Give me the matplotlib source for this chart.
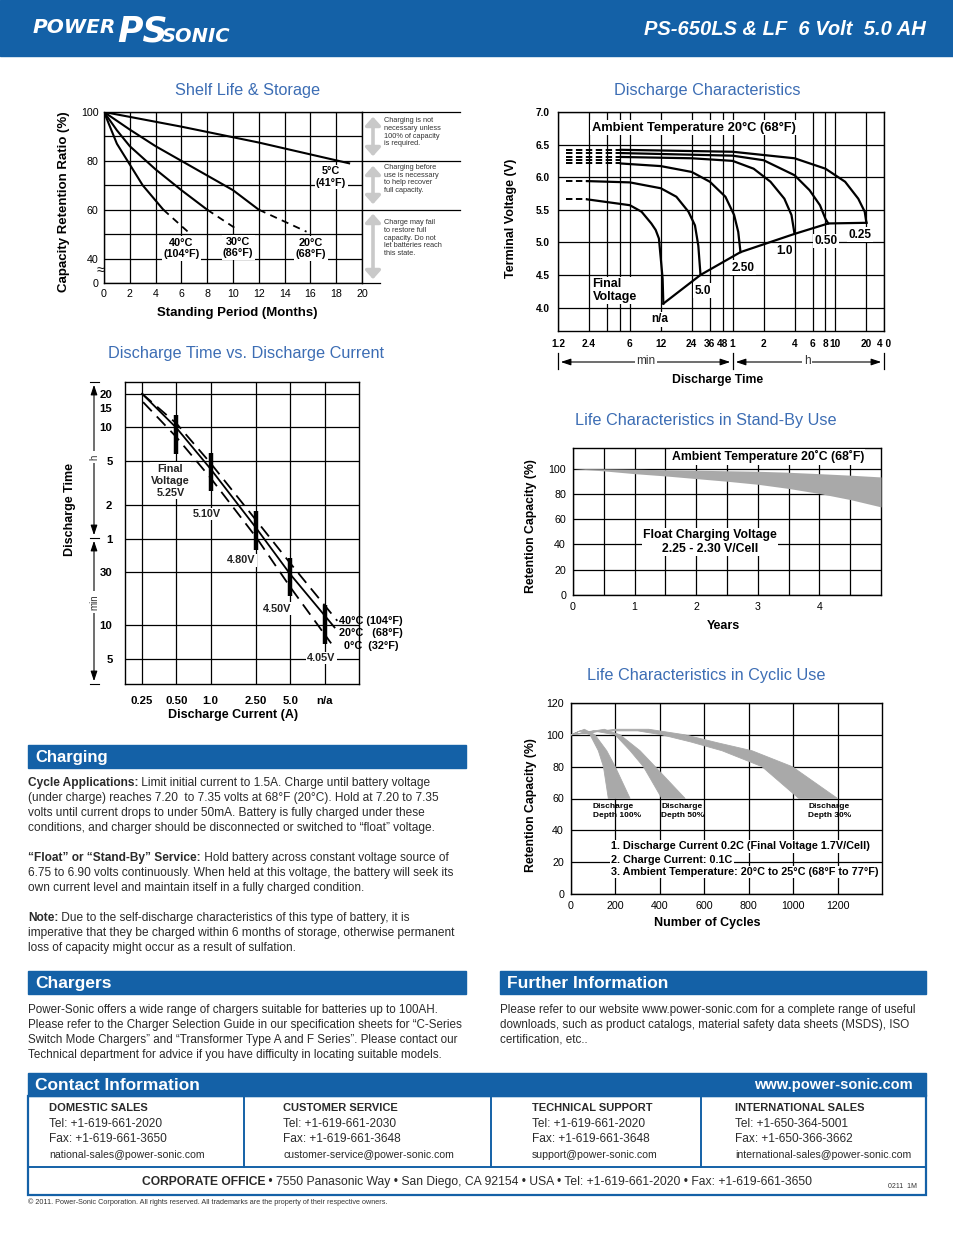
import matplotlib
matplotlib.use('Agg')
import matplotlib.pyplot as plt
from matplotlib.patches import Rectangle, FancyArrowPatch
from matplotlib.ticker import FixedLocator, NullFormatter

W, H = 954, 1235
BAR = '#1461a7'
TITLE = '#3c6db4'
BAND = '#a9a9a9'

plt.rcParams['font.family'] = ['Liberation Sans', 'DejaVu Sans']
NARROW = ['Liberation Sans Narrow', 'Liberation Sans', 'DejaVu Sans']

# ---------------- data ----------------
# Shelf life & storage (months, % retention)
shelf_5c_m = [0, 6, 12, 19]
shelf_5c_pct = [100, 94, 87.5, 79]
shelf_20c_m = [0, 2, 4, 6, 8, 10, 12]
shelf_20c_pct = [100, 92.8, 86, 80, 74, 68, 60]
shelf_20c_dash_m = [12, 15.7]
shelf_20c_dash_pct = [60, 51]
shelf_30c_m = [0, 1, 2, 4, 6, 8]
shelf_30c_pct = [100, 92.5, 86, 76.5, 68, 60]
shelf_30c_dash_m = [8, 10.3]
shelf_30c_dash_pct = [60, 52]
shelf_40c_m = [0, 1, 2, 3, 4.6]
shelf_40c_pct = [100, 87, 78.5, 70, 60]
shelf_40c_dash_m = [4.6, 6.5]
shelf_40c_dash_pct = [60, 51]

# Discharge characteristics (minutes, volts), one curve per current
dc_labels = ['0.25', '0.50', '1.0', '2.50', '5.0', 'n/a']
dc_time = [
    [4.9, 60, 240, 480, 745, 1000, 1156, 1200],
    [4.9, 60, 120, 240, 336, 424, 480, 511],
    [4.9, 24, 60, 96, 140, 191, 224, 240],
    [4.9, 12, 24, 36, 51, 62, 68, 71.5],
    [2.3, 6, 12, 17, 22.3, 25.8, 27.8, 29.2],
    [2.3, 6, 7.8, 9.7, 10.7, 11.5, 12.0, 12.5, 12.7],
]
dc_volt = [
    [6.42, 6.39, 6.29, 6.13, 5.93, 5.67, 5.47, 5.30],
    [6.37, 6.33, 6.26, 6.03, 5.80, 5.57, 5.36, 5.29],
    [6.31, 6.29, 6.25, 6.13, 5.93, 5.67, 5.42, 5.13],
    [6.21, 6.17, 6.08, 5.93, 5.70, 5.42, 5.16, 4.85],
    [5.94, 5.92, 5.83, 5.70, 5.47, 5.26, 4.95, 4.50],
    [5.66, 5.57, 5.47, 5.29, 5.19, 5.06, 4.75, 4.44, 4.06],
]
dc_dash_volt = [6.42, 6.37, 6.31, 6.26, 6.21, 5.94, 5.66]
dc_dash_end = [4.9, 4.9, 4.9, 4.9, 4.9, 2.3, 2.3]
dc_tick_min = [1.2, 2.4, 6, 12, 24, 36, 48, 60, 120, 240, 360, 480, 600, 1200, 1780]
dc_tick_lbl = ['1.2', '2.4', '6', '12', '24', '36', '48', '1', '2', '4', '6', '8', '10', '20', '4 0']
dc_minor_min = [3.6, 4.8]

# Discharge time vs discharge current (A, minutes)
dt_20c_a = [0.25, 0.5, 1.0, 2.5, 5.0, 12.2]
dt_20c_min = [1200, 593, 253, 75, 28.7, 9.6]
dt_40c_a = [0.25, 0.5, 1.0, 2.5, 5.0, 12.9]
dt_40c_min = [1200, 650, 285, 88, 36, 11.0]
dt_0c_a = [0.255, 0.5, 1.0, 2.5, 5.0, 11.4]
dt_0c_min = [1010, 490, 210, 62, 22, 6.9]
dt_mark_a = [0.5, 1.0, 2.5, 5.0, 10.0]
dt_mark_top = [768, 352, 107, 40.5, 15.4]
dt_mark_bot = [346, 160, 48, 18.2, 6.8]
dt_mark_lbl = ['Final\nVoltage\n5.25V', '5.10V', '4.80V', '4.50V', '4.05V']
dt_xtick_a = [0.25, 0.5, 1.0, 2.5, 5.0, 10.0]
dt_xtick_lbl = ['0.25', '0.50', '1.0', '2.50', '5.0', 'n/a']
dt_ytick_min = [1200, 900, 600, 300, 120, 60, 30, 10, 5]
dt_ytick_lbl = ['20', '15', '10', '5', '2', '1', '30', '10', '5']

# Stand-by life (years, % capacity band)
sb_years = [0, 0.5, 1, 1.5, 2, 2.5, 3, 3.5, 4, 4.5, 5]
sb_upper = [100, 99.8, 99.5, 99.1, 98.7, 98.3, 97.9, 97.1, 96.0, 94.8, 93.4]
sb_lower = [100, 98.2, 96.0, 94.2, 92.1, 90.0, 87.6, 84.3, 80.3, 75.5, 69.7]

# Cyclic life (cycles, % capacity), inner and outer edges of each band
cy100_in_n = [0, 40, 86, 123, 146, 168]
cy100_in_pct = [100, 102.5, 100, 90, 80, 60]
cy100_out_n = [0, 60, 108, 161, 199, 266]
cy100_out_pct = [100, 103.5, 100, 90, 80, 60]
cy50_in_n = [0, 100, 199, 266, 326, 409]
cy50_in_pct = [100, 102.5, 100, 90, 80, 60]
cy50_out_n = [0, 150, 221, 311, 379, 514]
cy50_out_pct = [100, 103.5, 100, 90, 80, 60]
cy30_in_n = [0, 150, 300, 409, 540, 680, 860, 1026]
cy30_in_pct = [100, 102.5, 102.5, 100, 95.5, 90, 80, 60]
cy30_out_n = [0, 200, 350, 514, 660, 815, 996, 1200]
cy30_out_pct = [100, 103.5, 103.5, 100, 95, 90, 80, 60]

# ---------------- helpers ----------------
fig = plt.figure(figsize=(W / 100, H / 100), dpi=100)
fig.patch.set_facecolor('white')


def fx(x):
    return x / W


def fy(y):
    return 1 - y / H


def axes_px(x0, y0, x1, y1):
    a = fig.add_axes([fx(x0), fy(y1), (x1 - x0) / W, (y1 - y0) / H])
    for s in a.spines.values():
        s.set_linewidth(1.0)
    a.tick_params(length=0)
    return a


def ftext(x, y, s, **kw):
    return fig.text(fx(x), fy(y), s, **kw)


def bar(x0, y0, x1, y1, label, size=12, family=None):
    fig.patches.append(Rectangle((fx(x0), fy(y1)), (x1 - x0) / W, (y1 - y0) / H,
                                 transform=fig.transFigure, color=BAR, zorder=0))
    kw = {}
    if family:
        kw['family'] = family
    ftext(x0 + 7, (y0 + y1) / 2 + 1, label, color='white', fontsize=size,
          weight='bold', va='center', **kw)


renderer = fig.canvas.get_renderer()


def rich(x, y, parts, size=8.6, family=None):
    cx = x
    for s, w in parts:
        kw = {}
        if family:
            kw['family'] = family
        t = ftext(cx, y, s, fontsize=size, weight=w, va='baseline', color='#2a2a2a', **kw)
        cx += t.get_window_extent(renderer=renderer).width
    return cx


WB = dict(facecolor='white', edgecolor='none', pad=1.0)
GRID = dict(color='black', lw=0.9)
AX_LBL = dict(fontsize=9, weight='bold', ha='center', va='center')
TTL = dict(fontsize=11.7, color=TITLE, ha='center', va='center')

# ---------------- header ----------------
fig.patches.append(Rectangle((0, fy(56)), 1, 56 / H, transform=fig.transFigure, color=BAR))
ftext(33, 33, 'POWER', fontsize=14.5, weight='bold', style='italic', color='white',
      va='baseline', family='DejaVu Sans')
ftext(117, 42, 'PS', fontsize=25, weight='bold', style='italic', color='white',
      va='baseline', family='DejaVu Sans')
ftext(162, 42, 'SONIC', fontsize=14, weight='bold', style='italic', color='white',
      va='baseline', family='DejaVu Sans')
for yy in range(16, 45, 3):
    fig.add_artist(plt.Line2D([fx(30), fx(240)], [fy(yy), fy(yy)], color=BAR, lw=0.45))
ftext(926, 35, 'PS-650LS & LF  6 Volt  5.0 AH', fontsize=14.5, weight='bold',
      style='italic', color='white', ha='right', va='baseline', family=NARROW)

# ---------------- shelf life ----------------
ax = axes_px(104, 112, 362, 283)
ax.set_xlim(0, 20)
ax.set_ylim(30, 100)
ax.set_xticks(range(0, 21, 2))
ax.set_yticks([30, 40, 60, 80, 100], ['0', '40', '60', '80', '100'])
ax.set_yticks([50, 70, 90], minor=True)
ax.grid(True, which='both', **GRID)
ax.tick_params(which='both', length=0, labelsize=7.7, pad=4)
for y in (60, 80, 100):
    ax.plot([20, 27.6], [y, y], clip_on=False, **GRID)
ax.plot([20, 21.4], [30, 30], clip_on=False, **GRID)
ax.plot(shelf_5c_m, shelf_5c_pct, color='black', lw=1.5)
ax.plot(shelf_20c_m, shelf_20c_pct, color='black', lw=1.5)
ax.plot(shelf_30c_m, shelf_30c_pct, color='black', lw=1.5)
ax.plot(shelf_40c_m, shelf_40c_pct, color='black', lw=1.5)
for xs, ys in ((shelf_20c_dash_m, shelf_20c_dash_pct), (shelf_30c_dash_m, shelf_30c_dash_pct),
               (shelf_40c_dash_m, shelf_40c_dash_pct)):
    ax.plot(xs, ys, color='black', lw=1.3, ls=(0, (4, 3)))
SL = dict(fontsize=7.8, weight='bold', ha='center', va='center', bbox=WB, linespacing=1.2)
ax.text(17.6, 73.5, '5°C\n(41°F)', **SL)
ax.text(6.0, 44.2, '40°C\n(104°F)', **SL)
ax.text(10.4, 44.5, '30°C\n(86°F)', **SL)
ax.text(16.05, 44.2, '20°C\n(68°F)', **SL)
ax.text(-0.25, 35.2, '≈', fontsize=10, ha='center', va='center', clip_on=False)
for y0, y1 in ((114, 159), (163, 207), (211, 282)):
    fig.patches.append(FancyArrowPatch((fx(373), fy(y0)), (fx(373), fy(y1)),
                                       transform=fig.transFigure,
                                       arrowstyle='<|-|>,head_length=0.5,head_width=0.45',
                                       mutation_scale=10, color='#c9c9c9', lw=2.6))
NOTE = dict(fontsize=5.3, va='top', linespacing=1.15, color='#333333', family=NARROW)
ftext(384, 117, 'Charging is not\nnecessary unless\n100% of capacity\nis required.', **NOTE)
ftext(384, 164, 'Charging before\nuse is necessary\nto help recover\nfull capacity.', **NOTE)
ftext(384, 219, 'Charge may fail\nto restore full\ncapacity. Do not\nlet batteries reach\nthis state.', **NOTE)
ftext(248, 90, 'Shelf Life & Storage', **TTL)
ftext(64, 202, 'Capacity Retention Ratio (%)', rotation=90, **dict(AX_LBL, fontsize=9.5))
ftext(237, 313, 'Standing Period (Months)', **dict(AX_LBL, fontsize=9.5))

# ---------------- discharge characteristics ----------------
ax = axes_px(558, 112, 884, 331)
ax.set_xscale('log')
ax.set_xlim(1.2, 1780)
ax.set_ylim(3.64, 7.0)
ax.set_xticks(dc_tick_min, dc_tick_lbl)
ax.xaxis.set_minor_locator(FixedLocator(dc_minor_min))
ax.xaxis.set_minor_formatter(NullFormatter())
ax.set_yticks([4.0, 4.5, 5.0, 5.5, 6.0, 6.5, 7.0])
ax.set_yticklabels(['4.0', '4.5', '5.0', '5.5', '6.0', '6.5', '7.0'])
ax.grid(True, which='both', **GRID)
ax.tick_params(which='both', length=0, labelsize=7.3, pad=6)
for lbl in ax.get_xticklabels() + ax.get_yticklabels():
    lbl.set_fontweight('bold')
for v, t_end in zip(dc_dash_volt, dc_dash_end):
    ax.plot([1.42, t_end], [v, v], color='black', lw=1.4, ls=(0, (3.3, 1.8)))
for ts, vs in zip(dc_time, dc_volt):
    ax.plot(ts, vs, color='black', lw=1.6, solid_joinstyle='round')
ax.plot([t[-1] for t in dc_time], [v[-1] for v in dc_volt], color='black', lw=1.6)
ax.text(2.55, 6.76, 'Ambient Temperature 20°C (68°F)', fontsize=9.3, weight='bold',
        va='center', bbox=WB)
ax.text(2.6, 4.26, 'Final\nVoltage', fontsize=9, weight='bold', va='center', bbox=WB,
        linespacing=1.1)
dc_lbl_pos = [(1038, 5.12), (489, 5.02), (193, 4.86), (76, 4.61), (30.5, 4.26), (11.8, 3.82)]
for (t, v), s in zip(dc_lbl_pos, dc_labels):
    ax.text(t, v, s, fontsize=8.5, weight='bold', ha='center', va='center', bbox=WB)
for x in (558, 733, 884):
    fig.add_artist(plt.Line2D([fx(x), fx(x)], [fy(353), fy(369)], color='black', lw=0.9))
for x0, x1, xm, s in ((558, 733, 646, 'min'), (733, 884, 807, 'h')):
    fig.patches.append(FancyArrowPatch((fx(x0), fy(362)), (fx(x1), fy(362)),
                                       transform=fig.transFigure,
                                       arrowstyle='<|-|>,head_length=0.6,head_width=0.2',
                                       mutation_scale=10, color='black', lw=0.8))
    ftext(xm, 361, s, fontsize=8.5, ha='center', va='center', color='#333333', bbox=WB)
ftext(707, 90, 'Discharge Characteristics', **TTL)
ftext(511, 218, 'Terminal Voltage (V)', rotation=90, **AX_LBL)
ftext(718, 380, 'Discharge Time', **dict(AX_LBL, fontsize=8.8))

# ---------------- discharge time vs current ----------------
ax = axes_px(125, 382, 359, 684)
ax.set_xscale('log')
ax.set_yscale('log')
ax.set_xlim(0.177, 20)
ax.set_ylim(2.98, 1530)
ax.minorticks_off()
ax.set_xticks(dt_xtick_a, dt_xtick_lbl)
ax.set_yticks(dt_ytick_min, dt_ytick_lbl)
ax.grid(True, **GRID)
ax.yaxis.get_gridlines()[1].set_visible(False)
ax.tick_params(length=0, labelsize=8.2, pad=9)
for lbl in ax.get_xticklabels() + ax.get_yticklabels():
    lbl.set_fontweight('bold')
ax.plot(dt_40c_a, dt_40c_min, color='black', lw=1.3, ls=(0, (7, 4)))
ax.plot(dt_20c_a, dt_20c_min, color='black', lw=1.3)
ax.plot(dt_0c_a, dt_0c_min, color='black', lw=1.3, ls=(0, (7, 4)))
ax.vlines(dt_mark_a, dt_mark_bot, dt_mark_top, color='black', lw=3.2)
dt_lbl_pos = [(0.443, 199), (0.93, 100), (1.86, 38.5), (3.83, 14.1), (9.3, 5.1)]
for (a, m), s in zip(dt_lbl_pos, dt_mark_lbl):
    ax.text(a, m, s, fontsize=7.8, weight='bold', ha='center', va='center', bbox=WB,
            linespacing=1.25, color='#222222')
ax.text(13.3, 11.0, '40°C (104°F)', fontsize=7.8, weight='bold', va='center')
ax.text(13.3, 8.5, '20°C   (68°F)', fontsize=7.8, weight='bold', va='center')
ax.text(14.8, 6.6, '0°C  (32°F)', fontsize=7.8, weight='bold', va='center')
for y in (382, 538, 684):
    fig.add_artist(plt.Line2D([fx(90), fx(99)], [fy(y), fy(y)], color='black', lw=0.8))
for y0, y1, ym, s in ((382, 538, 457, 'h'), (538, 684, 602, 'min')):
    fig.patches.append(FancyArrowPatch((fx(94), fy(y0)), (fx(94), fy(y1)),
                                       transform=fig.transFigure,
                                       arrowstyle='<|-|>,head_length=0.6,head_width=0.2',
                                       mutation_scale=10, color='black', lw=0.8))
    ftext(94, ym, s, fontsize=7, rotation=90, ha='center', va='center', color='#333333',
          bbox=dict(facecolor='white', edgecolor='none', pad=2))
ftext(246, 354, 'Discharge Time vs. Discharge Current', **TTL)
ftext(70, 510, 'Discharge Time', rotation=90, **AX_LBL)
ftext(233, 715, 'Discharge Current (A)', **AX_LBL)

# ---------------- charging text ----------------
bar(28, 745, 466, 768, 'Charging')
LH = 15
rich(28, 786, [('Cycle Applications:', 'bold'),
               (' Limit initial current to 1.5A. Charge until battery voltage', 'normal')])
for i, s in enumerate(['(under charge) reaches 7.20  to 7.35 volts at 68°F (20°C). Hold at 7.20 to 7.35',
                       'volts until current drops to under 50mA. Battery is fully charged under these',
                       'conditions, and charger should be disconnected or switched to “float” voltage.']):
    rich(28, 786 + LH * (i + 1), [(s, 'normal')])
rich(28, 861, [('“Float” or “Stand-By” Service:', 'bold'),
               (' Hold battery across constant voltage source of', 'normal')])
for i, s in enumerate(['6.75 to 6.90 volts continuously. When held at this voltage, the battery will seek its',
                       'own current level and maintain itself in a fully charged condition.']):
    rich(28, 861 + LH * (i + 1), [(s, 'normal')])
rich(28, 921, [('Note:', 'bold'),
               (' Due to the self-discharge characteristics of this type of battery, it is', 'normal')])
for i, s in enumerate(['imperative that they be charged within 6 months of storage, otherwise permanent',
                       'loss of capacity might occur as a result of sulfation.']):
    rich(28, 921 + LH * (i + 1), [(s, 'normal')])

# ---------------- chargers / further info ----------------
bar(28, 971, 466, 994, 'Chargers', family=NARROW, size=12.5)
bar(500, 971, 926, 994, 'Further Information', family=NARROW, size=12.5)
for i, s in enumerate(['Power-Sonic offers a wide range of chargers suitable for batteries up to 100AH.',
                       'Please refer to the Charger Selection Guide in our specification sheets for “C-Series',
                       'Switch Mode Chargers” and “Transformer Type A and F Series”. Please contact our',
                       'Technical department for advice if you have difficulty in locating suitable models.']):
    rich(28, 1013 + LH * i, [(s, 'normal')], size=8.4, family=NARROW)
for i, s in enumerate(['Please refer to our website www.power-sonic.com for a complete range of useful',
                       'downloads, such as product catalogs, material safety data sheets (MSDS), ISO',
                       'certification, etc..']):
    rich(500, 1013 + LH * i, [(s, 'normal')], size=8.4, family=NARROW)

# ---------------- contact ----------------
bar(28, 1073, 926, 1096, 'Contact Information', family=NARROW, size=12.5)
ftext(913, 1085, 'www.power-sonic.com', color='white', fontsize=10.5, weight='bold',
      ha='right', va='center', family=NARROW)
fig.patches.append(Rectangle((fx(28), fy(1195)), (926 - 28) / W, (1195 - 1096) / H,
                             transform=fig.transFigure, fill=False, edgecolor=BAR, lw=1.6))
fig.add_artist(plt.Line2D([fx(28), fx(926)], [fy(1167), fy(1167)], color=BAR, lw=1.4))
for x in (244, 491, 701):
    fig.add_artist(plt.Line2D([fx(x), fx(x)], [fy(1096), fy(1167)], color=BAR, lw=1.4))
contact_heads = ['DOMESTIC SALES', 'CUSTOMER SERVICE', 'TECHNICAL SUPPORT', 'INTERNATIONAL SALES']
contact_x = [49, 283, 532, 735]
contact_lines = [
    ['Tel: +1-619-661-2020', 'Fax: +1-619-661-3650', 'national-sales@power-sonic.com'],
    ['Tel: +1-619-661-2030', 'Fax: +1-619-661-3648', 'customer-service@power-sonic.com'],
    ['Tel: +1-619-661-2020', 'Fax: +1-619-661-3648', 'support@power-sonic.com'],
    ['Tel: +1-650-364-5001', 'Fax: +1-650-366-3662', 'international-sales@power-sonic.com'],
]
contact_size = [8.6, 8.6, 7.6]
for x, head, lines in zip(contact_x, contact_heads, contact_lines):
    rich(x, 1111, [(head, 'bold')], size=8, family=NARROW)
    for i, (s, sz) in enumerate(zip(lines, contact_size)):
        rich(x, 1127 + 15.5 * i, [(s, 'normal')], size=sz, family=NARROW)
rich(142, 1185, [('CORPORATE OFFICE', 'bold'),
                 (' • 7550 Panasonic Way • San Diego, CA 92154 • USA • Tel: +1-619-661-2020'
                  ' • Fax: +1-619-661-3650', 'normal')], size=8.7, family=NARROW)
ftext(888, 1187, '0211  1M', fontsize=5, va='center', color='#333333', family=NARROW)
ftext(28, 1202, '© 2011. Power-Sonic Corporation. All rights reserved. All trademarks are the '
      'property of their respective owners.', fontsize=5.2, va='center', color='#333333',
      family=NARROW)

# ---------------- stand-by life ----------------
ax = axes_px(573, 448, 881, 595)
ax.set_xlim(0, 5)
ax.set_ylim(0, 116.3)
ax.set_xticks([0, 1, 2, 3, 4])
ax.set_xticks([0.5, 1.5, 2.5, 3.5, 4.5], minor=True)
ax.set_yticks([0, 20, 40, 60, 80, 100])
ax.grid(True, which='both', **GRID)
ax.tick_params(which='both', length=0, labelsize=7.7, pad=5)
ax.fill_between(sb_years, sb_lower, sb_upper, color=BAND, lw=0, zorder=3)
ax.text(1.6, 109.2, 'Ambient Temperature 20˚C (68˚F)', fontsize=8.8, weight='bold',
        va='center', bbox=WB, zorder=4)
ax.text(2.22, 42, 'Float Charging Voltage\n2.25 - 2.30 V/Cell', fontsize=8.8, weight='bold',
        ha='center', va='center', bbox=WB, linespacing=1.2, zorder=4)
ftext(706, 421, 'Life Characteristics in Stand-By Use', **TTL)
ftext(531, 526, 'Retention Capacity (%)', rotation=90, **dict(AX_LBL, fontsize=8.8))
ftext(723, 626, 'Years', **AX_LBL)

# ---------------- cyclic life ----------------
ax = axes_px(571, 703, 882, 894)
ax.set_xlim(0, 1400)
ax.set_ylim(0, 120)
ax.set_xticks(range(0, 1201, 200))
ax.set_yticks(range(0, 121, 20))
ax.grid(True, **GRID)
ax.tick_params(length=0, labelsize=7.7, pad=5)
for xi, yi, xo, yo in ((cy100_in_n, cy100_in_pct, cy100_out_n, cy100_out_pct),
                       (cy50_in_n, cy50_in_pct, cy50_out_n, cy50_out_pct),
                       (cy30_in_n, cy30_in_pct, cy30_out_n, cy30_out_pct)):
    ax.fill(list(xo) + list(xi)[::-1], list(yo) + list(yi)[::-1], color=BAND, lw=0.6,
            ec=BAND, zorder=3)
for n, s in ((98, 'Discharge\nDepth 100%'), (406, 'Discharge\nDepth 50%'),
             (1069, 'Discharge\nDepth 30%')):
    ax.text(n, 52, s, fontsize=6, weight='bold', va='center', linespacing=1.3, zorder=4)
NT = dict(fontsize=7.8, weight='bold', va='center', bbox=WB, zorder=4)
ax.text(182, 29.9, '1. Discharge Current 0.2C (Final Voltage 1.7V/Cell)', **NT)
ax.text(182, 21.6, '2. Charge Current: 0.1C', **NT)
ax.text(182, 13.8, '3. Ambient Temperature: 20°C to 25°C (68°F to 77°F)', **NT)
ftext(706, 675, 'Life Characteristics in Cyclic Use', **TTL)
ftext(531, 805, 'Retention Capacity (%)', rotation=90, **dict(AX_LBL, fontsize=8.8))
ftext(707, 923, 'Number of Cycles', **AX_LBL)

fig.savefig('out.png', dpi=100)
